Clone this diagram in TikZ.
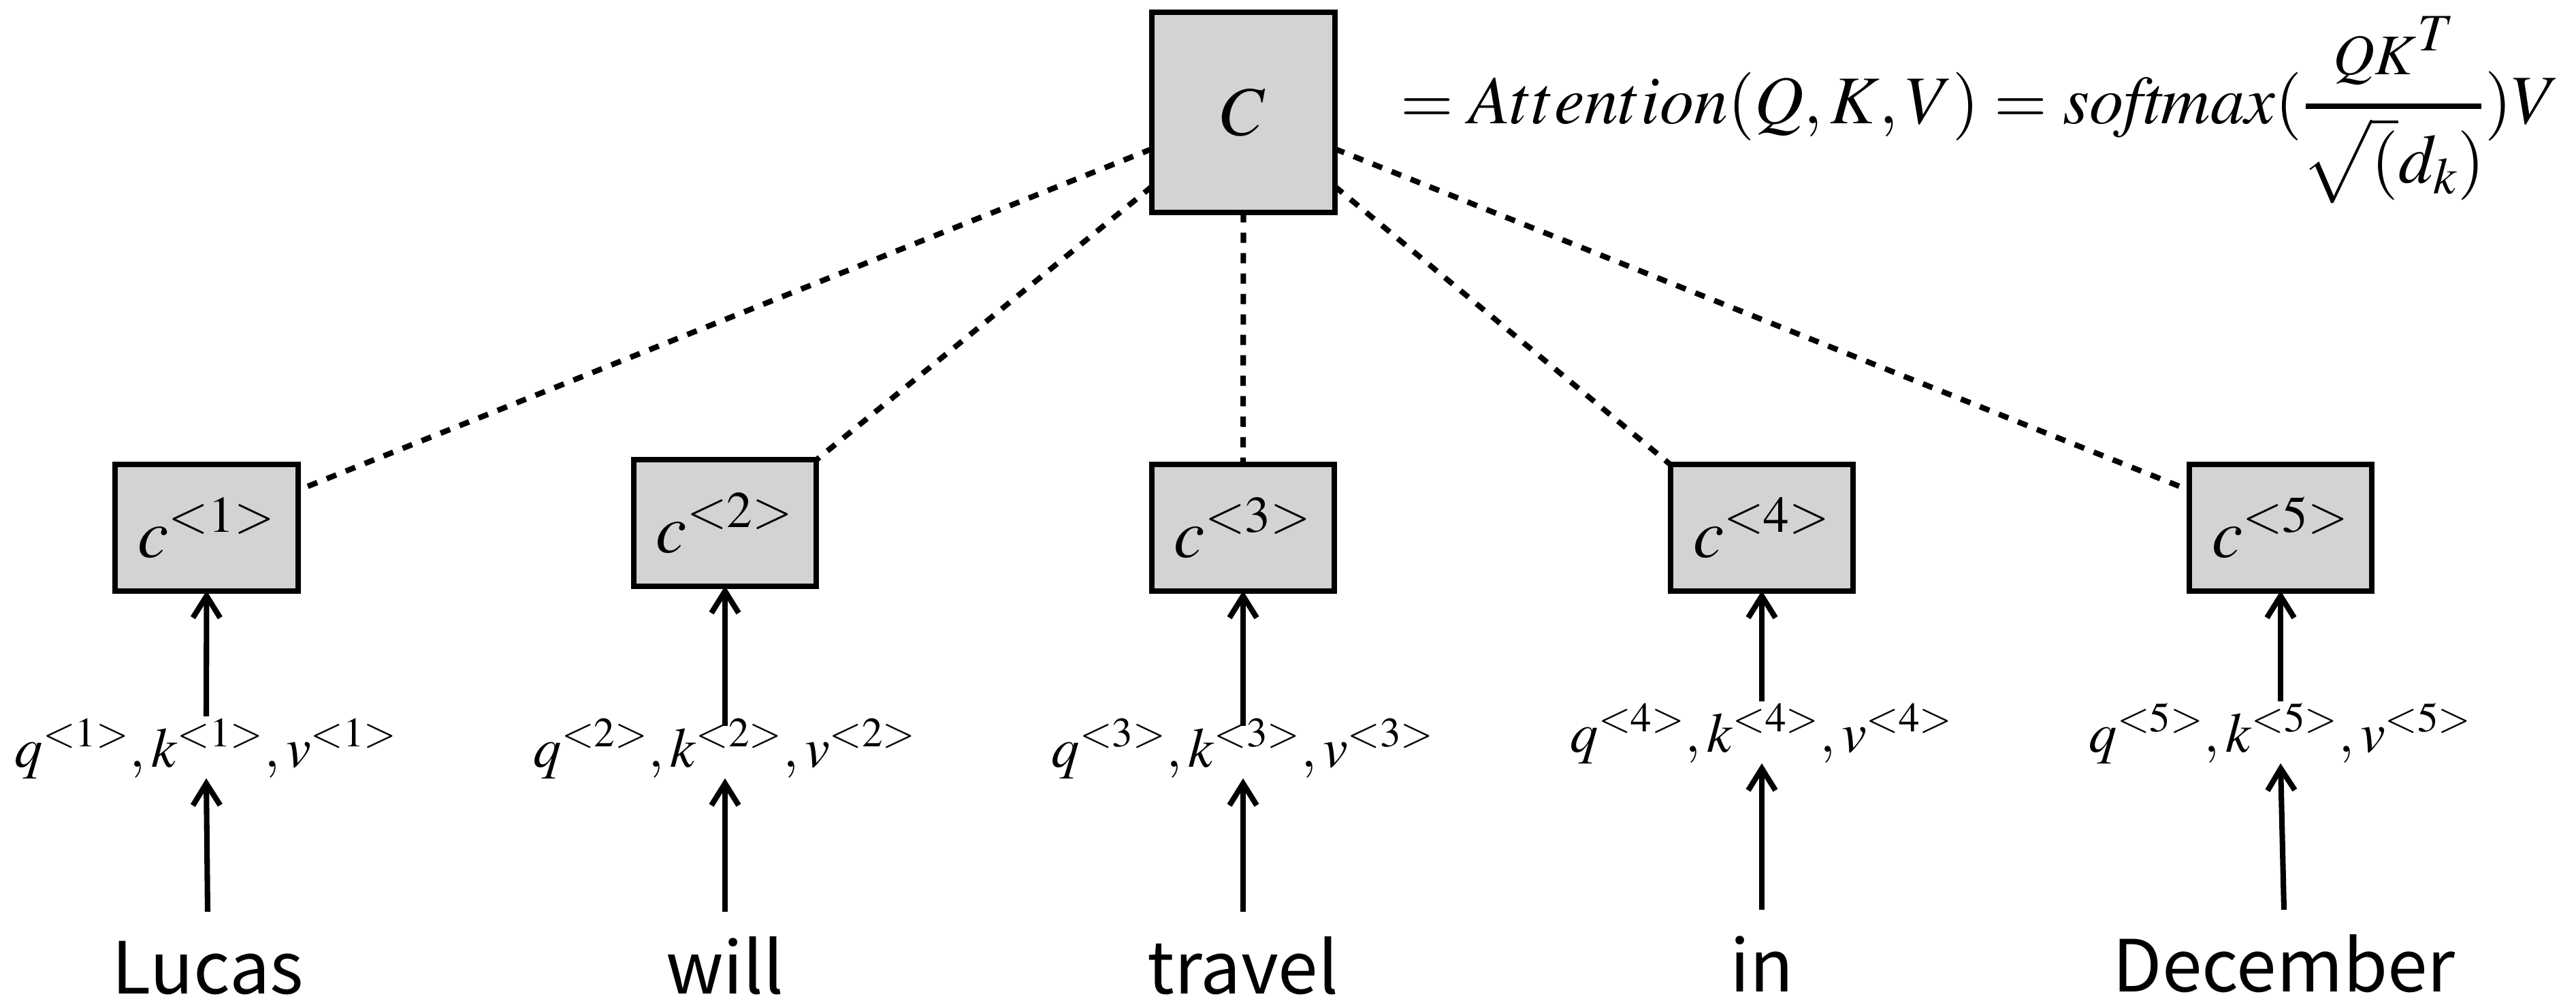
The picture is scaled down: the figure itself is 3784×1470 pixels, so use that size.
\documentclass[tikz,border=0pt]{standalone}
\usepackage{mathptmx}
\usepackage[no-math]{fontspec}
\setmainfont{Liberation Serif}
\newfontfamily\wordfont{Noto Sans CJK KR}
\usetikzlibrary{arrows.meta}
\definecolor{boxgray}{RGB}{211,211,211}

\begin{document}
\begin{tikzpicture}[x=0.01cm, y=-0.01cm,
  every node/.style={inner sep=0pt, outer sep=0pt},
  ctxbox/.style={draw, line width=2.3pt, fill=boxgray,
    minimum width=2.68cm, minimum height=1.85cm,
    font=\fontsize{29}{34}\selectfont},
  bigbox/.style={ctxbox, minimum height=2.93cm},
  fml/.style={font=\fontsize{29}{34}\selectfont},
  qkv/.style={font=\fontsize{23.5}{28}\selectfont, anchor=base,
    text height=0.74cm, text depth=0.17cm},
  qkvlow/.style={qkv, text height=0.60cm},
  word/.style={font=\wordfont\fontsize{30}{36}\selectfont, anchor=base,
    text height=0.80cm},
  arr/.style={line width=2.3pt, -{Straight Barb[length=0.32cm, width=0.40cm]}},
  dsh/.style={line width=2.3pt, dash pattern=on 0.15cm off 0.15cm},
]
\useasboundingbox (0,0) rectangle (3784,1470);

% global context vector
\node[bigbox] (C) at (1826.5,165) {$C$};

% its definition: C = Attention(Q,K,V) = softmax(QK^T / sqrt(d_k)) V
\coordinate (barL) at (3387,156);
\coordinate (barR) at (3645,156);
\coordinate (barM) at (3516,156);
\draw[line width=0.08cm] (barL) -- (barR);
\node[anchor=base east, font=\fontsize{28.5}{34}\selectfont] (f1) at (3381,182)
  {$=Attention(Q,K,V)=\mathit{softmax}($};
\node[anchor=base, font=\fontsize{24}{28}\selectfont] (fnum)
  at ([yshift=0.46cm]barM)
  {$QK$\kern0.02cm\raisebox{0.35cm}{\fontsize{22}{26}\selectfont$T$}};
\node[fml, anchor=base] (fden) at ([yshift=-1.12cm]barM) {$\sqrt(d_k)$};
\node[fml, anchor=base west] (f2) at (3650,182) {$)V$};

% per-token context vectors
\node[ctxbox] (c1) at (303.5,775) {$c^{<1>}$};
\node[ctxbox] (c2) at (1065,768) {$c^{<2>}$};
\node[ctxbox] (c3) at (1826,775) {$c^{<3>}$};
\node[ctxbox] (c4) at (2588,775) {$c^{<4>}$};
\node[ctxbox] (c5) at (3350,775) {$c^{<5>}$};

% query, key and value of each token
\node[qkv]    (l1) at (303,1126)  {$q^{<1>},k^{<1>},v^{<1>}$};
\node[qkvlow] (l2) at (1065,1126) {$q^{<2>},k^{<2>},v^{<2>}$};
\node[qkvlow] (l3) at (1826,1126) {$q^{<3>},k^{<3>},v^{<3>}$};
\node[qkv]    (l4) at (2588,1104) {$q^{<4>},k^{<4>},v^{<4>}$};
\node[qkv]    (l5) at (3350,1104) {$q^{<5>},k^{<5>},v^{<5>}$};

% input words
\node[word] (w1) at (305,1459)  {Lucas};
\node[word] (w2) at (1065,1459) {will};
\node[word] (w3) at (1826,1459) {travel};
\node[word] (w4) at (2588,1456) {in};
\node[word] (w5) at (3355,1456) {December};

% word -> q,k,v -> context vector
\foreach \i in {1,...,5}{
  \draw[arr] ([yshift=0.40cm]w\i.north) -- (l\i.south);
  \draw[arr] (l\i.north) -- (c\i.south);
}

% attention links to the global context
\draw[dsh] ([yshift=-2.0cm]C.north west) -- ([yshift=-0.375cm]c1.north east);
\draw[dsh] ([yshift=-2.55cm]C.north west) -- (c2.north east);
\draw[dsh] (C.south) -- (c3.north);
\draw[dsh] ([yshift=-2.55cm]C.north east) -- (c4.north west);
\draw[dsh] ([yshift=-2.0cm]C.north east) -- ([yshift=-0.375cm]c5.north west);
\end{tikzpicture}
\end{document}
